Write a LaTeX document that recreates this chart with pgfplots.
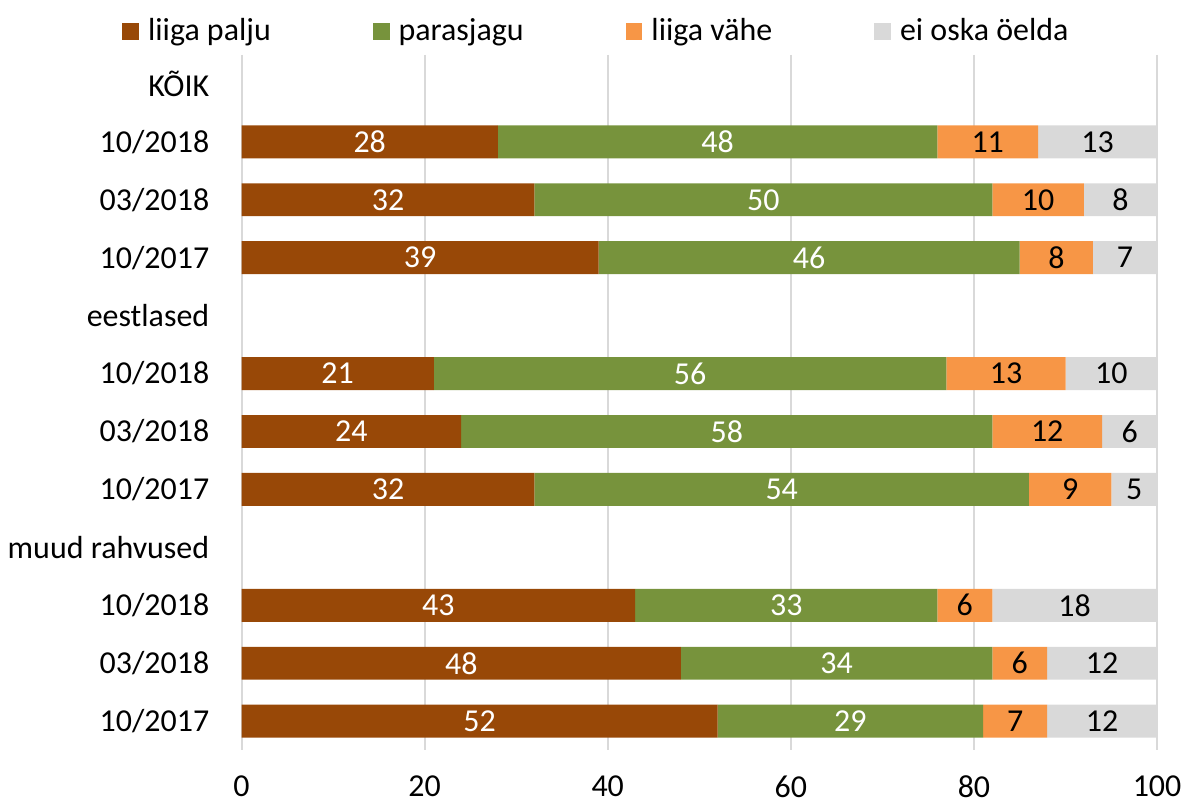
\documentclass[border=0pt]{standalone}
\usepackage{pgfplots}
\pgfplotsset{compat=1.18}
\usepackage{pgfplotstable}
\usepackage{fontspec}
\setmainfont{Carlito}

\definecolor{palju}{HTML}{984807}
\definecolor{paras}{HTML}{77933C}
\definecolor{vahe}{HTML}{F79646}
\definecolor{eioska}{HTML}{D9D9D9}

% rows 0, 4, 8 are group headers (no bar)
\pgfplotstableread{
y  a  b  c  d
1  28 48 11 13
2  32 50 10 8
3  39 46 8  7
5  21 56 13 10
6  24 58 12 6
7  32 54 9  5
9  43 33 6  18
10 48 34 6  12
11 52 29 7  12
}\data

\pgfplotsset{base/.style={
  scale only axis, width=458.7pt, height=348.3pt,
  xmin=0, xmax=100, ymin=-0.5, ymax=11.5, y dir=reverse, clip=false}}

\begin{document}
\fontsize{16}{19}\selectfont
\begin{tikzpicture}
\begin{axis}[base,
  xbar stacked, bar width=16.5pt,
  axis line style={draw=none}, major tick length=0pt,
  xtick={0,20,...,100}, xmajorgrids, grid style={eioska, line width=1pt},
  ytick={0,...,11},
  yticklabel style={inner xsep=0pt, xshift=-16pt},
  yticklabels={KÕIK,10/2018,03/2018,10/2017,eestlased,10/2018,03/2018,10/2017,muud rahvused,10/2018,03/2018,10/2017},
  xticklabel style={inner ysep=0pt, text depth=0pt, yshift=-12.5pt},
  /pgf/number format/assume math mode=true,
  legend columns=4,
  legend image code/.code={\path[#1,draw=none] (0pt,-4.25pt) rectangle (8.5pt,4.25pt);},
  legend style={draw=none, fill=none, inner sep=0pt, at={(-0.1308,1.033)}, anchor=west,
    nodes={inner sep=0pt},
    /tikz/every odd column/.append style={column sep=4.5pt},
    /tikz/every even column/.append style={column sep=51pt}},
]
\addplot[fill=palju, draw=none] table[x=a, y=y] {\data};
\addplot[fill=paras, draw=none] table[x=b, y=y] {\data};
\addplot[fill=vahe, draw=none] table[x=c, y=y] {\data};
\addplot[fill=eioska, draw=none] table[x=d, y=y] {\data};
\legend{liiga palju, parasjagu, liiga vähe, ei oska öelda}
\path (rel axis cs:-0.2638,-0.0768) rectangle (rel axis cs:1.0357,1.079);
\end{axis}
\begin{axis}[base, hide axis]
\addplot[draw=none, mark=none, nodes near coords, point meta=explicit symbolic,
  every node near coord/.style={anchor=center, text=white}]
  table[x expr=\thisrow{a}/2, y=y, meta=a] {\data};
\addplot[draw=none, mark=none, nodes near coords, point meta=explicit symbolic,
  every node near coord/.style={anchor=center, text=white}]
  table[x expr=\thisrow{a}+\thisrow{b}/2, y=y, meta=b] {\data};
\addplot[draw=none, mark=none, nodes near coords, point meta=explicit symbolic,
  every node near coord/.style={anchor=center, text=black}]
  table[x expr=\thisrow{a}+\thisrow{b}+\thisrow{c}/2, y=y, meta=c] {\data};
\addplot[draw=none, mark=none, nodes near coords, point meta=explicit symbolic,
  every node near coord/.style={anchor=center, text=black}]
  table[x expr=\thisrow{a}+\thisrow{b}+\thisrow{c}+\thisrow{d}/2, y=y, meta=d] {\data};
\end{axis}
\end{tikzpicture}
\end{document}
